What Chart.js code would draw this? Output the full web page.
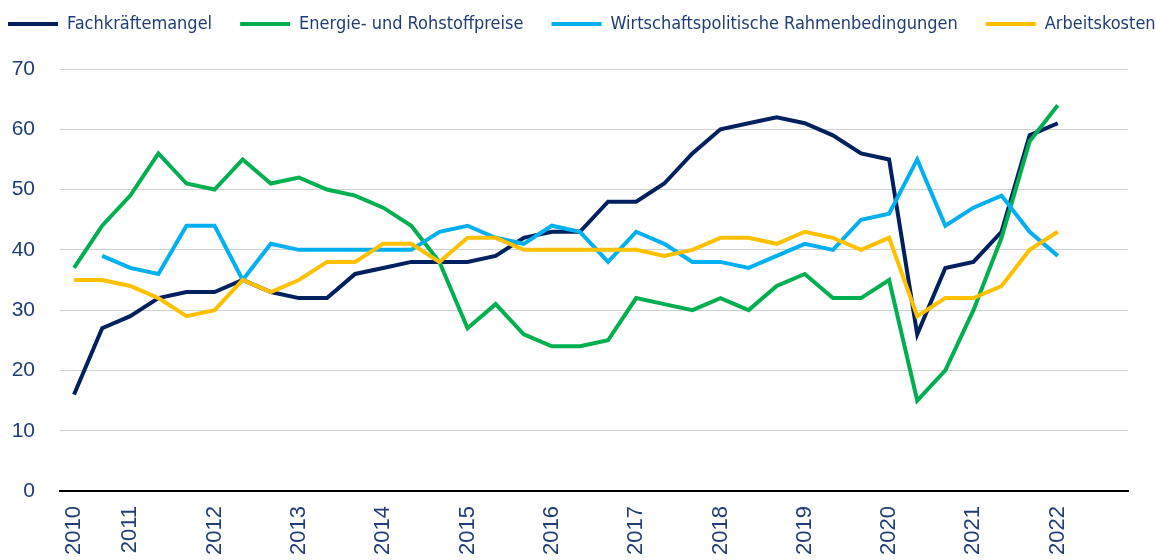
<!DOCTYPE html>
<html>
<head>
<meta charset="utf-8">
<script src="https://cdn.jsdelivr.net/npm/chart.js@4/dist/chart.umd.min.js"></script>
<style>
  html, body { margin: 0; padding: 0; background: #ffffff; }
  #wrap { width: 1156px; height: 560px; position: relative; }
</style>
</head>
<body>
<div id="wrap"><canvas id="c" width="1156" height="560"></canvas></div>
<script>
// Survey periods (three per year; 2010 has two, 2022 has one). Only the first period of each year is labelled.
const xLabels = [
  '2010', '',
  '2011', '', '',
  '2012', '', '',
  '2013', '', '',
  '2014', '', '',
  '2015', '', '',
  '2016', '', '',
  '2017', '', '',
  '2018', '', '',
  '2019', '', '',
  '2020', '', '',
  '2021', '', '',
  '2022'
];

const fachkraeftemangel = [16, 27, 29, 32, 33, 33, 35, 33, 32, 32, 36, 37, 38, 38, 38, 39, 42, 43, 43, 48, 48, 51, 56, 60, 61, 62, 61, 59, 56, 55, 26, 37, 38, 43, 59, 61];
const energieRohstoff   = [37, 44, 49, 56, 51, 50, 55, 51, 52, 50, 49, 47, 44, 38, 27, 31, 26, 24, 24, 25, 32, 31, 30, 32, 30, 34, 36, 32, 32, 35, 15, 20, 30, 42, 58, 64];
const wirtschaftspol    = [null, 39, 37, 36, 44, 44, 35, 41, 40, 40, 40, 40, 40, 43, 44, 42, 41, 44, 43, 38, 43, 41, 38, 38, 37, 39, 41, 40, 45, 46, 55, 44, 47, 49, 43, 39];
const arbeitskosten     = [35, 35, 34, 32, 29, 30, 35, 33, 35, 38, 38, 41, 41, 38, 42, 42, 40, 40, 40, 40, 40, 39, 40, 42, 42, 41, 43, 42, 40, 42, 29, 32, 32, 34, 40, 43];

const yTicks = [0, 10, 20, 30, 40, 50, 60, 70];

const seriesNames = ['Fachkräftemangel', 'Energie- und Rohstoffpreise', 'Wirtschaftspolitische Rahmenbedingungen', 'Arbeitskosten'];
const seriesColors = ['#002060', '#00B050', '#00B0F0', '#FFC000'];
const seriesData = [fachkraeftemangel, energieRohstoff, wirtschaftspol, arbeitskosten];

const textColor = '#213d78';

const legendFix = {
  id: 'legendFix',
  beforeInit(chart) {
    const lg = chart.legend;
    if (lg) {
      const orig = lg.fit;
      lg.fit = function () {
        this.maxWidth = 3000;
        orig.call(this);
        this.height = 69;
      };
    }
  },
  afterLayout(chart) {
    const lg = chart.legend;
    if (lg) {
      lg.left = 8 - 28;
      lg.right = 3000;
      lg.width = lg.right - lg.left;
      lg.top = -13;
      lg.bottom = lg.top + 69;
    }
  }
};

const datasets = seriesData.map((d, i) => ({
  label: seriesNames[i],
  data: d,
  borderColor: seriesColors[i],
  backgroundColor: seriesColors[i],
  borderWidth: 4,
  pointRadius: 0,
  pointHoverRadius: 0,
  tension: 0,
  spanGaps: false,
  order: seriesData.length - i
}));

new Chart(document.getElementById('c'), {
  type: 'line',
  data: { labels: [...xLabels, '', ''], datasets },
  options: {
    responsive: false,
    animation: false,
    devicePixelRatio: 1,
    layout: { padding: { left: 0, right: 28, top: 0, bottom: 0 } },
    plugins: {
      tooltip: { enabled: false },
      legend: {
        position: 'top',
        align: 'start',
        labels: {
          color: textColor,
          font: { family: "'Liberation Sans Narrow', 'DejaVu Sans Condensed', 'Roboto Condensed', 'Liberation Sans', sans-serif", size: 18 },
          usePointStyle: true,
          pointStyle: 'line',
          pointStyleWidth: 50,
          boxHeight: 18,
          padding: 28,
          sort: (a, b) => a.datasetIndex - b.datasetIndex
        }
      }
    },
    scales: {
      x: {
        type: 'category',
        offset: true,
        grid: { display: false, drawTicks: false },
        border: { display: true, color: '#000000', width: 2 },
        afterFit(scale) { scale.height = 69; },
        ticks: {
          autoSkip: false,
          maxRotation: 90,
          minRotation: 90,
          padding: 15,
          color: textColor,
          font: { family: "'Liberation Sans', Arial, sans-serif", size: 22 }
        }
      },
      y: {
        min: 0,
        max: 70,
        afterFit(scale) { scale.width = 60; },
        afterBuildTicks(scale) { scale.ticks = yTicks.map(v => ({ value: v })); },
        border: { display: false },
        grid: {
          drawTicks: false,
          color: (ctx) => (ctx.tick && ctx.tick.value === 0) ? '#000000' : '#d0d0d0',
          lineWidth: (ctx) => (ctx.tick && ctx.tick.value === 0) ? 2 : 1
        },
        ticks: {
          padding: 25,
          color: textColor,
          font: { family: "'Liberation Sans', Arial, sans-serif", size: 21 }
        }
      }
    }
  },
  plugins: [legendFix]
});
</script>
</body>
</html>
